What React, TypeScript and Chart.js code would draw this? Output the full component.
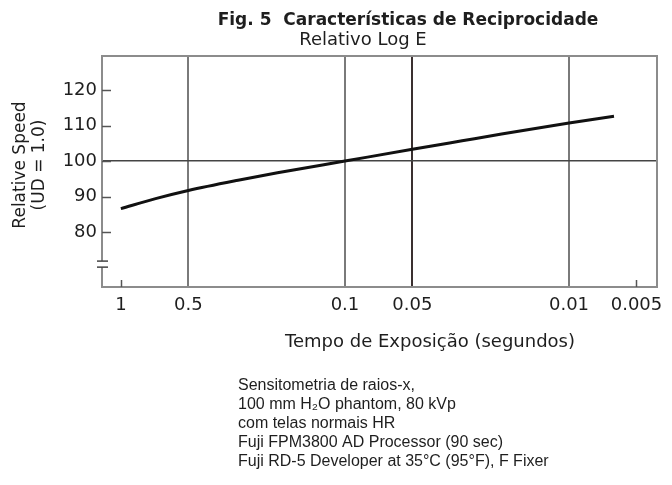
import { useEffect, useRef } from 'react';
import { Chart, registerables } from 'chart.js';

Chart.register(...registerables);

// ---- data ----
const exposureTimes = [1, 0.7, 0.5, 0.3, 0.2, 0.1, 0.05, 0.03, 0.02, 0.01, 0.0063];
const relativeSpeed = [86.6, 89.4, 91.7, 94.6, 96.7, 100, 103.3, 105.7, 107.6, 110.7, 112.6];
const xTickValues = [1, 0.5, 0.1, 0.05, 0.01, 0.005];
const xGridValues = [0.5, 0.1, 0.05, 0.01];
const xDarkGridValues = [0.05];
const yTickValues = [80, 90, 100, 110, 120];
const yGridValues = [100];
const axisBreakValues = [71.8, 70.1];

const titleText = 'Fig. 5  Características de Reciprocidade';
const subtitleText = 'Relativo Log E';
const xTitleText = 'Tempo de Exposição (segundos)';
const yTitleLines = ['Relative Speed', '(UD = 1.0)'];
const noteLines = [
  'Sensitometria de raios-x,',
  '100 mm H₂O phantom, 80 kVp',
  'com telas normais HR',
  'Fuji FPM3800 AD Processor (90 sec)',
  'Fuji RD-5 Developer at 35°C (95°F), F Fixer',
];

const FONT = '"DejaVu Sans", "Liberation Sans", Arial, sans-serif';
const NOTE_FONT = '"Liberation Sans", Arial, sans-serif';
const TEXT = '#1e1e1e';
const BORDER = '#8c8c8c';

const decorPlugin = {
  id: 'decor',
  afterDraw(chart: any) {
    const { ctx, chartArea: a, scales } = chart;
    const xs = scales.x;
    const ys = scales.y;
    ctx.save();
    // top and right border
    ctx.strokeStyle = BORDER;
    ctx.lineWidth = 2;
    ctx.beginPath();
    ctx.moveTo(a.left, a.top);
    ctx.lineTo(a.right, a.top);
    ctx.lineTo(a.right, a.bottom);
    ctx.stroke();

    // inner ticks on y
    ctx.strokeStyle = '#555';
    ctx.lineWidth = 1.5;
    for (const v of yTickValues) {
      const y = Math.round(ys.getPixelForValue(v)) + 0.5;
      ctx.beginPath();
      ctx.moveTo(a.left, y);
      ctx.lineTo(a.left + 9, y);
      ctx.stroke();
    }
    // inner ticks on x (where no grid line)
    for (const v of xTickValues) {
      if (xGridValues.includes(v)) continue;
      const x = Math.round(xs.getPixelForValue(v)) + 0.5;
      ctx.beginPath();
      ctx.moveTo(x, a.bottom);
      ctx.lineTo(x, a.bottom - 7);
      ctx.stroke();
    }

    // axis break
    const yb1 = ys.getPixelForValue(axisBreakValues[0]);
    const yb2 = ys.getPixelForValue(axisBreakValues[1]);
    ctx.fillStyle = '#fff';
    ctx.fillRect(a.left - 2, yb1, 4, yb2 - yb1);
    ctx.strokeStyle = '#444';
    ctx.lineWidth = 1.5;
    for (const yb of [yb1, yb2]) {
      ctx.beginPath();
      ctx.moveTo(a.left - 5, yb);
      ctx.lineTo(a.left + 6, yb);
      ctx.stroke();
    }

    // texts
    ctx.fillStyle = TEXT;
    ctx.textBaseline = 'alphabetic';
    ctx.textAlign = 'center';
    ctx.font = `bold 17px ${FONT}`;
    ctx.fillText(titleText, 408, 25);
    ctx.font = `18px ${FONT}`;
    ctx.fillText(subtitleText, 363, 45);
    ctx.font = `18px ${FONT}`;
    ctx.fillText(xTitleText, 430, 347);

    ctx.font = `17px ${FONT}`;
    ctx.textBaseline = 'middle';
    yTitleLines.forEach((line, i) => {
      ctx.save();
      ctx.translate(21 + i * 19, 165);
      ctx.rotate(-Math.PI / 2);
      ctx.fillText(line, 0, 0);
      ctx.restore();
    });

    ctx.textAlign = 'left';
    ctx.textBaseline = 'alphabetic';
    ctx.font = `16px ${NOTE_FONT}`;
    noteLines.forEach((line, i) => {
      ctx.fillText(line, 238, 390 + i * 19);
    });
    ctx.restore();
  },
};

export default function App() {
  const ref = useRef<HTMLCanvasElement | null>(null);
  useEffect(() => {
    document.body.style.margin = '0';
    const canvas = ref.current;
    if (!canvas) return;
    const chart = new Chart(canvas, {
      type: 'line',
      data: {
        datasets: [
          {
            data: exposureTimes.map((t, i) => ({ x: t, y: relativeSpeed[i] })),
            borderColor: '#111',
            borderWidth: 3,
            pointRadius: 0,
            cubicInterpolationMode: 'monotone',
            fill: false,
          },
        ],
      },
      options: {
        responsive: false,
        animation: false,
        devicePixelRatio: 1,
        layout: { padding: { top: 56, right: 15, bottom: 158, left: 0 } },
        plugins: { legend: { display: false }, tooltip: { enabled: false }, title: { display: false } },
        scales: {
          x: {
            type: 'logarithmic',
            reverse: true,
            min: 0.00405,
            max: 1.214,
            afterBuildTicks: (s: any) => {
              s.ticks = xTickValues.map((v) => ({ value: v }));
            },
            afterFit: (s: any) => {
              s.height = 40;
            },
            ticks: {
              autoSkip: false,
              maxRotation: 0,
              padding: 8,
              color: TEXT,
              font: { family: FONT, size: 18 },
              callback: (v: any) => String(v),
            },
            grid: {
              drawTicks: false,
              color: (c: any) =>
                c.tick && xGridValues.includes(c.tick.value)
                  ? xDarkGridValues.includes(c.tick.value)
                    ? '#3a3030'
                    : '#7a7a7a'
                  : 'rgba(0,0,0,0)',
              lineWidth: 2,
            },
            border: { display: true, color: BORDER, width: 2 },
          },
          y: {
            type: 'linear',
            min: 64.5,
            max: 129.6,
            afterBuildTicks: (s: any) => {
              s.ticks = yTickValues.map((v) => ({ value: v }));
            },
            afterFit: (s: any) => {
              s.width = 102;
            },
            ticks: {
              padding: 5,
              color: TEXT,
              font: { family: FONT, size: 18 },
              callback: (v: any) => String(v),
            },
            grid: {
              drawTicks: false,
              color: (c: any) => (c.tick && yGridValues.includes(c.tick.value) ? '#444' : 'rgba(0,0,0,0)'),
              lineWidth: 1.5,
            },
            border: { display: true, color: BORDER, width: 2 },
          },
        },
      },
      plugins: [decorPlugin],
    } as any);
    return () => chart.destroy();
  }, []);
  return <canvas ref={ref} width={672} height={485} style={{ display: 'block' }} />;
}
